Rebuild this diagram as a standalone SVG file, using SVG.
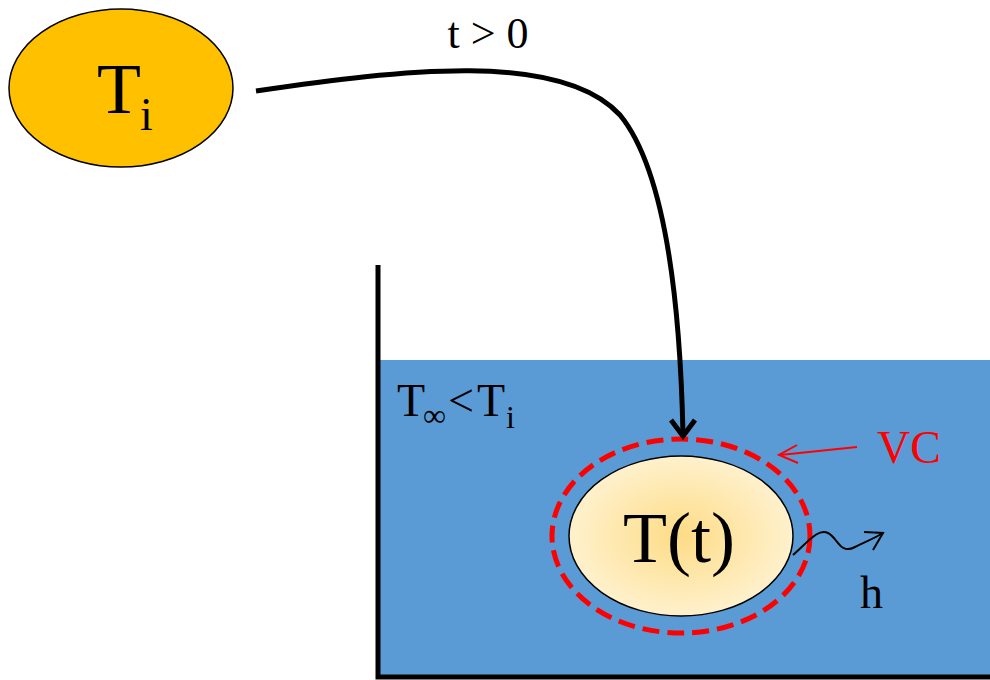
<svg xmlns="http://www.w3.org/2000/svg" width="990" height="680" viewBox="0 0 990 680">
<defs>
<radialGradient id="g" cx="50%" cy="50%" r="50%">
<stop offset="0" stop-color="#FDDC86"/>
<stop offset="1" stop-color="#FFF1CD"/>
</radialGradient>
<style>
text{font-family:"Liberation Serif","Times New Roman",serif;fill:#000}
.red{fill:#FF0000}
.blk{fill:none;stroke:#000;stroke-linecap:butt;stroke-linejoin:miter}
</style>
</defs>
<g id="tank">
<rect x="380" y="360" width="610" height="318" fill="#5B9BD5"/>
<path d="M378,265 V677 H990" fill="none" stroke="#000" stroke-width="5"/>
<text font-size="46"><tspan x="397" y="416">T</tspan><tspan x="423" y="426" font-size="32">∞</tspan><tspan x="448" y="416">&lt;</tspan><tspan x="477" y="416">T</tspan><tspan x="506" y="428" font-size="32">i</tspan></text>
</g>
<g id="initial">
<ellipse cx="121" cy="88" rx="112" ry="79" fill="#FFC000" stroke="#000" stroke-width="1.5"/>
<text font-size="72"><tspan x="97" y="113">T</tspan><tspan x="140" y="130" font-size="46">i</tspan></text>
</g>
<g id="body">
<ellipse cx="681" cy="536" rx="112" ry="80" fill="url(#g)" stroke="#000" stroke-width="1.5"/>
<text x="679" y="562" font-size="72" text-anchor="middle">T(t)</text>
</g>
<g id="vc">
<ellipse cx="681" cy="536" rx="129" ry="97" fill="none" stroke="#FF0000" stroke-width="5" stroke-dasharray="17 8"/>
<text class="red" x="877" y="463" font-size="46">VC</text>
</g>
<g id="h-label">
<text x="860" y="608" font-size="46">h</text>
</g>
<g id="connectors">
<path class="blk" d="M256,91 C400,70 560,50 620,115 C665,170 680,300 683,434" stroke-width="5"/>
<path class="blk" d="M671,420 L683,436 L695,420" stroke-width="5"/>
<path d="M857,447 L780,455" fill="none" stroke="#FF0000" stroke-width="2"/>
<path d="M797,445 L779,455 L798,463" fill="none" stroke="#FF0000" stroke-width="2"/>
<path class="blk" d="M793,555 C808,542 818,528 828,533 C838,538 840,555 855,547 C865,542 875,538 883,533" stroke-width="2"/>
<path class="blk" d="M864,532 L883,533 L873,550" stroke-width="2"/>
</g>
<text x="488" y="48" font-size="44" text-anchor="middle">t &gt; 0</text>
</svg>
